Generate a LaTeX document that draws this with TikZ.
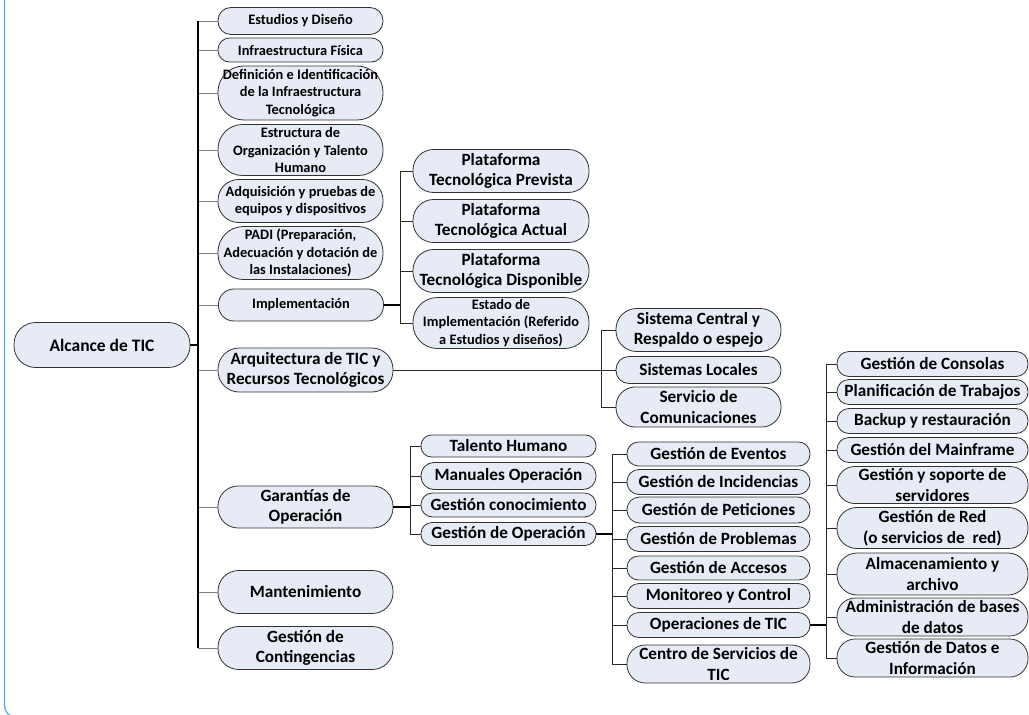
\documentclass[tikz,border=0pt]{standalone}
\usepackage{fontspec}
\setmainfont{Carlito}
\definecolor{relleno}{RGB}{230,235,245}
\definecolor{borde}{RGB}{50,50,50}
\definecolor{rama}{RGB}{40,40,40}
\definecolor{marco}{RGB}{70,175,210}
\begin{document}
\begin{tikzpicture}[x=1pt,y=-1pt,
  caja/.style 2 args={draw=borde,fill=relleno,align=center,inner sep=0pt,
    line width=0.8pt,minimum width=#1,minimum height=#2,rounded corners=0.48*#2},
  letra/.style={font=\fontsize{17.2}{20.5}\selectfont\bfseries},
  chica/.style={font=\fontsize{14.4}{17.3}\selectfont\bfseries},
  grueso/.style={line width=1.6pt,black},
  fino/.style={line width=0.9pt,rama},
  gris/.style={line width=1pt,gray}]
\useasboundingbox (0,0) rectangle (1029,715);
\clip (0,0) rectangle (1029,715);
\draw[marco,line width=1.2pt,rounded corners=12] (4.5,-5) -- (4.5,717.5) -- (1040,717.5);
% raiz
\node[caja={176}{45},font=\fontsize{17.5}{21}\selectfont\bfseries] (alcance) at (102,345) {Alcance de TIC};
% primer nivel
\node[caja={165}{27},chica] (estudios) at (300.5,21) {Estudios y Diseño};
\node[caja={165}{24},chica] (infra) at (300.5,50) {Infraestructura Física};
\node[caja={165}{54},chica] (definicion) at (300.5,93) {Definición e Identificación\\de la Infraestructura\\Tecnológica};
\node[caja={165}{51},chica] (estructura) at (300.5,150) {Estructura de\\Organización y Talento\\Humano};
\node[caja={165}{43},chica] (adquisicion) at (300.5,201) {Adquisición y pruebas de\\equipos y dispositivos};
\node[caja={165}{53},chica] (padi) at (300.5,253) {PADI (Preparación,\\Adecuación y dotación de\\las Instalaciones)};
\node[caja={165}{32},chica] (implementacion) at (301,305) {Implementación};
\node[caja={175}{44},letra] (arquitectura) at (305.5,370) {Arquitectura de TIC y\\Recursos Tecnológicos};
\node[caja={175}{42},letra] (garantias) at (305.5,507) {Garantías de\\Operación};
\node[caja={175}{43},letra] (mantenimiento) at (305.5,592) {Mantenimiento};
\node[caja={175}{43},letra] (contingencias) at (305.5,648) {Gestión de\\Contingencias};
% implementacion
\node[caja={176}{43},letra] (prevista) at (501,171) {Plataforma\\Tecnológica Prevista};
\node[caja={176}{43},letra] (actual) at (501,221) {Plataforma\\Tecnológica Actual};
\node[caja={176}{43},letra] (disponible) at (501,271) {Plataforma\\Tecnológica Disponible};
\node[caja={176}{51},chica] (estado) at (501,323) {Estado de\\Implementación (Referido\\a Estudios y diseños)};
% arquitectura
\node[caja={165}{43},letra] (central) at (698.5,330) {Sistema Central y\\Respaldo o espejo};
\node[caja={165}{27},letra] (locales) at (698.5,370) {Sistemas Locales};
\node[caja={165}{40},letra] (comunicaciones) at (698.5,407) {Servicio de\\Comunicaciones};
% garantias
\node[caja={175}{22},letra] (talento) at (508.5,446) {Talento Humano};
\node[caja={175}{27},letra] (manuales) at (508.5,476) {Manuales Operación};
\node[caja={175}{24},letra] (conocimiento) at (508.5,505) {Gestión conocimiento};
\node[caja={175}{23},letra] (gestop) at (508.5,534) {Gestión de Operación};
% gestion de operacion
\node[caja={183}{24},letra] (eventos) at (718.5,454) {Gestión de Eventos};
\node[caja={183}{25},letra] (incidencias) at (718.5,482) {Gestión de Incidencias};
\node[caja={183}{26},letra] (peticiones) at (718.5,510) {Gestión de Peticiones};
\node[caja={183}{25},letra] (problemas) at (718.5,539) {Gestión de Problemas};
\node[caja={183}{24},letra] (accesos) at (718.5,568) {Gestión de Accesos};
\node[caja={183}{25},letra] (monitoreo) at (718.5,596) {Monitoreo y Control};
\node[caja={183}{25},letra] (operaciones) at (718.5,625) {Operaciones de TIC};
\node[caja={183}{38},letra] (centro) at (718.5,664) {Centro de Servicios de\\TIC};
% operaciones de TIC
\node[caja={191}{25},letra] (consolas) at (932.5,364) {Gestión de Consolas};
\node[caja={191}{25},letra] (planificacion) at (932.5,392) {Planificación de Trabajos};
\node[caja={191}{25},letra] (backup) at (932.5,421) {Backup y restauración};
\node[caja={191}{25},letra] (mainframe) at (932.5,450) {Gestión del Mainframe};
\node[caja={191}{37},letra] (servidores) at (932.5,485) {Gestión y soporte de\\servidores};
\node[caja={191}{41},letra] (red) at (932.5,528) {Gestión de Red\\(o servicios de~ red)};
\node[caja={191}{42},letra] (almacenamiento) at (932.5,574) {Almacenamiento y\\archivo};
\node[caja={191}{38},letra] (bases) at (932.5,617) {Administración de bases\\de datos};
\node[caja={191}{38},letra] (datos) at (932.5,658) {Gestión de Datos e\\Información};
% conectores
\coordinate (b0) at (198,0);
\coordinate (b1) at (400,0);
\coordinate (b2) at (601,0);
\coordinate (b3) at (410,0);
\coordinate (b4) at (612,0);
\coordinate (b5) at (826,0);
\foreach \n in {estudios,infra,definicion,estructura,adquisicion,padi,implementacion,
  arquitectura,garantias,mantenimiento,contingencias}
  \draw[gris] (\n.west -| b0) -- (\n.west);
\draw[grueso] (estudios.west -| b0) -- (contingencias.west -| b0);
\draw[grueso] (alcance.east) -- (alcance.east -| b0);
\foreach \n in {prevista,actual,disponible,estado}
  \draw[fino] (\n.west -| b1) -- (\n.west);
\draw[fino] (prevista.west -| b1) -- (estado.west -| b1);
\draw[grueso] (implementacion.east) -- (implementacion.east -| b1);
\foreach \n in {central,locales,comunicaciones}
  \draw[fino] (\n.west -| b2) -- (\n.west);
\draw[fino] (central.west -| b2) -- (comunicaciones.west -| b2);
\draw[fino] (arquitectura.east) -- (arquitectura.east -| b2);
\foreach \n in {talento,manuales,conocimiento,gestop}
  \draw[fino] (\n.west -| b3) -- (\n.west);
\draw[fino] (talento.west -| b3) -- (gestop.west -| b3);
\draw[grueso] (garantias.east) -- (garantias.east -| b3);
\foreach \n in {eventos,incidencias,peticiones,problemas,accesos,monitoreo,operaciones,centro}
  \draw[fino] (\n.west -| b4) -- (\n.west);
\draw[fino] (eventos.west -| b4) -- (centro.west -| b4);
\draw[grueso] (gestop.east) -- (gestop.east -| b4);
\foreach \n in {consolas,planificacion,backup,mainframe,servidores,red,almacenamiento,bases,datos}
  \draw[fino] (\n.west -| b5) -- (\n.west);
\draw[fino] (consolas.west -| b5) -- (datos.west -| b5);
\draw[grueso] (operaciones.east) -- (operaciones.east -| b5);
\end{tikzpicture}
\end{document}
